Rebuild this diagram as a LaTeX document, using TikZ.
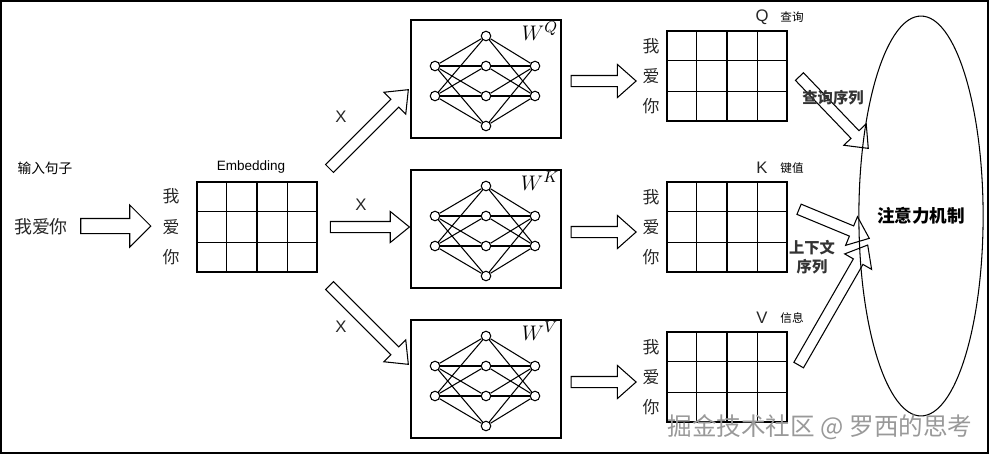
\documentclass[tikz,border=0pt]{standalone}
\usepackage{fontspec}
\setmainfont{Liberation Sans}
\newfontfamily\cjk{Noto Sans CJK SC}
\usetikzlibrary{shapes.geometric,shapes.arrows,calc}

\tikzset{
    neuron/.style={draw, circle, fill=white, inner sep=0pt, minimum size=0.19cm},
    netbox/.style={draw, minimum width=3cm, minimum height=2.36cm, inner sep=0pt},
    mat/.style={draw, line width=0.8pt, minimum width=2.4cm, minimum height=1.8cm, inner sep=0pt},
    fat/.style={draw, single arrow, minimum height=#1, inner ysep=0.1cm, inner xsep=0pt,
        single arrow head extend=0.2cm, single arrow tip angle=78, sloped, midway},
    word/.style={font=\cjk\fontsize{9.6}{10}\selectfont, text=black!85},
    note/.style={font=\cjk\fontsize{6.6}{7}\selectfont},
    letter/.style={font=\fontsize{9.5}{10}\selectfont, text=black!85},
    seq/.style={font=\cjk\bfseries\fontsize{8.7}{10.8}\selectfont, text=black!80, align=center}
}

\begin{document}
\begin{tikzpicture}[x=0.02cm, y=-0.02cm, line width=0.6pt]
    \useasboundingbox (0,0) rectangle (992,457);
    \draw[line width=1.1pt] (1,1) rectangle (988,453);

    % input sentence
    \node[font=\cjk\fontsize{7.8}{8}\selectfont] (inp) at (45,168) {输入句子};
    \node[font=\cjk\fontsize{10.2}{11}\selectfont, text=black!85] (src) at (41,227) {我爱你};
    \coordinate (in0) at (77,226);
    \coordinate (in1) at (147,226);
    \path (in0) -- (in1) node[fat=1.4cm, inner ysep=0.14cm, single arrow head extend=0.27cm,
        single arrow tip angle=90] (inarr) {};

    % embedding
    \node[font=\fontsize{7.7}{8}\selectfont] (embl) at (251,167) {Embedding};
    \node[mat] (emb) at (257,227) {};
    \node[word] (e1) at (171,196) {我};
    \node[word] (e2) at (171,227) {爱};
    \node[word] (e3) at (171,257) {你};

    % projections
    \coordinate (xq0) at (327,171);
    \coordinate (xq1) at (406,92);
    \coordinate (xk0) at (327,227);
    \coordinate (xk1) at (406,227);
    \coordinate (xv0) at (327,283);
    \coordinate (xv1) at (406,362);
    \path (xq0) -- (xq1) node[fat=2.23cm] (xqa) {};
    \path (xk0) -- (xk1) node[fat=1.58cm] (xka) {};
    \path (xv0) -- (xv1) node[fat=2.23cm] (xva) {};
    \node[letter] (xql) at (341,117) {X};
    \node[letter] (xkl) at (361,205) {X};
    \node[letter] (xvl) at (341,327) {X};

    % weight networks
    \foreach \n/\y/\s in {q/81/Q, k/231/K, v/381/V} {
        \node[netbox] (w\n) at (486,\y-2) {};
        \node[font=\fontsize{12.5}{13}\selectfont] (w\n l) at (540,\y-50) {$W^{\s}$};
        \node[neuron] (\n-t) at (486,\y-45) {};
        \node[neuron] (\n-l1) at (435,\y-15) {};
        \node[neuron] (\n-l2) at (435,\y+15) {};
        \node[neuron] (\n-m1) at (486,\y-15) {};
        \node[neuron] (\n-m2) at (486,\y+15) {};
        \node[neuron] (\n-r1) at (535,\y-15) {};
        \node[neuron] (\n-r2) at (535,\y+15) {};
        \node[neuron] (\n-b) at (486,\y+45) {};
        \foreach \a in {l1,l2}
            \foreach \b in {t,m1,m2,b}
                \draw (\n-\a) -- (\n-\b);
        \foreach \a in {t,m1,m2,b}
            \foreach \b in {r1,r2}
                \draw (\n-\a) -- (\n-\b);
    }

    % Q K V matrices
    \foreach \n/\y/\s/\t in {q/76/Q/查询, k/227/K/键值, v/377/V/信息} {
        \coordinate (\n0) at (568,\y+5);
        \coordinate (\n1) at (633,\y+5);
        \path (\n0) -- (\n1) node[fat=1.3cm, single arrow head extend=0.22cm,
            single arrow tip angle=83] (\n a) {};
        \node[mat] (\n m) at (727,\y) {};
        \node[word] (\n w1) at (651,\y-30) {我};
        \node[word] (\n w2) at (651,\y) {爱};
        \node[word] (\n w3) at (651,\y+30) {你};
        \node[letter] (\n l) at (762,\y-59) {\s};
        \node[note] (\n n) at (792,\y-59) {\t};
    }
    \foreach \m in {emb,qm,km,vm} {
        \foreach \i in {1,2,3}
            \draw[line width=0.8pt] ($(\m.north west)!\i/4!(\m.north east)$) -- ($(\m.south west)!\i/4!(\m.south east)$);
        \foreach \j in {1,2}
            \draw[line width=0.8pt] ($(\m.north west)!\j/3!(\m.south west)$) -- ($(\m.north east)!\j/3!(\m.south east)$);
    }

    % attention
    \node[draw, ellipse, minimum width=2.2cm, minimum height=8cm, inner sep=0pt,
        font=\cjk\bfseries\fontsize{10}{11}\selectfont] (attn) at (921,216) {注意力机制};
    \coordinate (aq0) at (797,74);
    \coordinate (aq1) at (866,146);
    \coordinate (ak0) at (796,208);
    \coordinate (ak1) at (866,237);
    \coordinate (av0) at (797,368);
    \coordinate (av1) at (866,248);
    \path (aq0) -- (aq1) node[fat=1.99cm] (aqa) {};
    \path (ak0) -- (ak1) node[fat=1.52cm] (aka) {};
    \path (av0) -- (av1) node[fat=2.77cm] (ava) {};
    \node[seq] (qseq) at (833,98) {查询序列};
    \node[seq] (kvseq) at (812,257) {上下文\\序列};

    \node[font=\cjk\fontsize{14}{15}\selectfont, text=black!40] (mark) at (820,427) {掘金技术社区 @ 罗西的思考};
\end{tikzpicture}
\end{document}
